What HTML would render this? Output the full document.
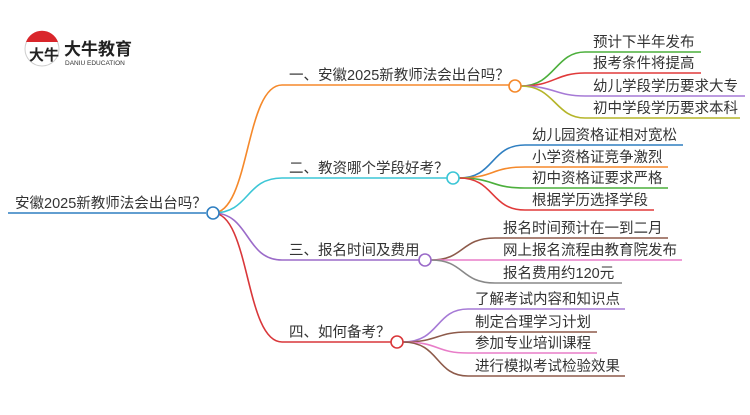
<!DOCTYPE html>
<html><head><meta charset="utf-8"><style>
body{margin:0;background:#fff;width:750px;height:410px;overflow:hidden}
svg text{font-family:"Liberation Sans","Noto Sans CJK SC",sans-serif;font-size:14.5px;fill:#333}
</style></head><body>
<svg width="750" height="410" viewBox="0 0 750 410" xmlns="http://www.w3.org/2000/svg" fill="none" stroke-width="1.6">
<circle cx="42" cy="49" r="17" fill="#fff" stroke="#ccc" stroke-width="1"/>
<path d="M26 42 A17 17 0 0 1 58 42 Z" fill="#d9262b" stroke="none"/>
<text x="29" y="60" style="font-size:15px;font-weight:bold;fill:#222">大牛</text>
<text x="64" y="55" style="font-size:17px;font-weight:bold;fill:#222">大牛教育</text>
<text x="65" y="65" style="font-size:6.5px;fill:#333">DANIU EDUCATION</text>
<line x1="8" y1="213" x2="206" y2="213" stroke="#2f7fc1"/>
<text x="15" y="208">安徽2025新教师法会出台吗？</text>
<path d="M213 213 C250 213 245 85 282 85 H509" stroke="#f5892b"/>
<path d="M213 213 C250 213 245 178 282 178 H447" stroke="#3cc6d6"/>
<path d="M213 213 C250 213 245 260 282 260 H419" stroke="#9b6bc9"/>
<path d="M213 213 C250 213 245 342 282 342 H391" stroke="#d9373a"/>
<circle cx="213" cy="213" r="6" fill="#fff" stroke="#2f7fc1"/>
<text x="289" y="80">一、安徽2025新教师法会出台吗？</text>
<text x="289" y="173">二、教资哪个学段好考？</text>
<text x="289" y="255">三、报名时间及费用</text>
<text x="289" y="337">四、如何备考？</text>
<path d="M521 86 C555 86 555 52 585 52 H701" stroke="#4caf3c"/>
<path d="M521 86 C555 86 555 73 585 73 H701" stroke="#e03a3a"/>
<path d="M521 86 C555 86 555 96 585 96 H745" stroke="#a67ad6"/>
<path d="M521 86 C555 86 555 118 585 118 H740" stroke="#b5b52a"/>
<circle cx="515" cy="86" r="6" fill="#fff" stroke="#f5892b"/>
<text x="593" y="47">预计下半年发布</text>
<text x="593" y="68">报考条件将提高</text>
<text x="593" y="91">幼儿学段学历要求大专</text>
<text x="593" y="113">初中学段学历要求本科</text>
<path d="M459 178 C495 178 490 145 525 145 H683" stroke="#2f7fc1"/>
<path d="M459 178 C495 178 490 167 525 167 H668" stroke="#f5892b"/>
<path d="M459 178 C495 178 490 188 525 188 H668" stroke="#4caf3c"/>
<path d="M459 178 C495 178 490 210 525 210 H654" stroke="#e03a3a"/>
<circle cx="453" cy="178" r="6" fill="#fff" stroke="#3cc6d6"/>
<text x="532" y="140">幼儿园资格证相对宽松</text>
<text x="532" y="162">小学资格证竞争激烈</text>
<text x="532" y="183">初中资格证要求严格</text>
<text x="532" y="205">根据学历选择学段</text>
<path d="M431 260 C465 260 460 238 495 238 H668" stroke="#8d5a4a"/>
<path d="M431 260 H682" stroke="#e87dc8"/>
<path d="M431 260 C465 260 460 283 495 283 H622" stroke="#888"/>
<circle cx="425" cy="260" r="6" fill="#fff" stroke="#9b6bc9"/>
<text x="503" y="233">报名时间预计在一到二月</text>
<text x="503" y="255">网上报名流程由教育院发布</text>
<text x="503" y="278">报名费用约120元</text>
<path d="M403 342 C440 342 435 309 468 309 H625" stroke="#a67ad6"/>
<path d="M403 342 C440 342 435 332 468 332 H597" stroke="#8d5a4a"/>
<path d="M403 342 C440 342 435 353 468 353 H597" stroke="#e87dc8"/>
<path d="M403 342 C440 342 435 376 468 376 H625" stroke="#8d5a4a"/>
<circle cx="397" cy="342" r="6" fill="#fff" stroke="#d9373a"/>
<text x="475" y="304">了解考试内容和知识点</text>
<text x="475" y="327">制定合理学习计划</text>
<text x="475" y="348">参加专业培训课程</text>
<text x="475" y="371">进行模拟考试检验效果</text>
</svg>
</body></html>
